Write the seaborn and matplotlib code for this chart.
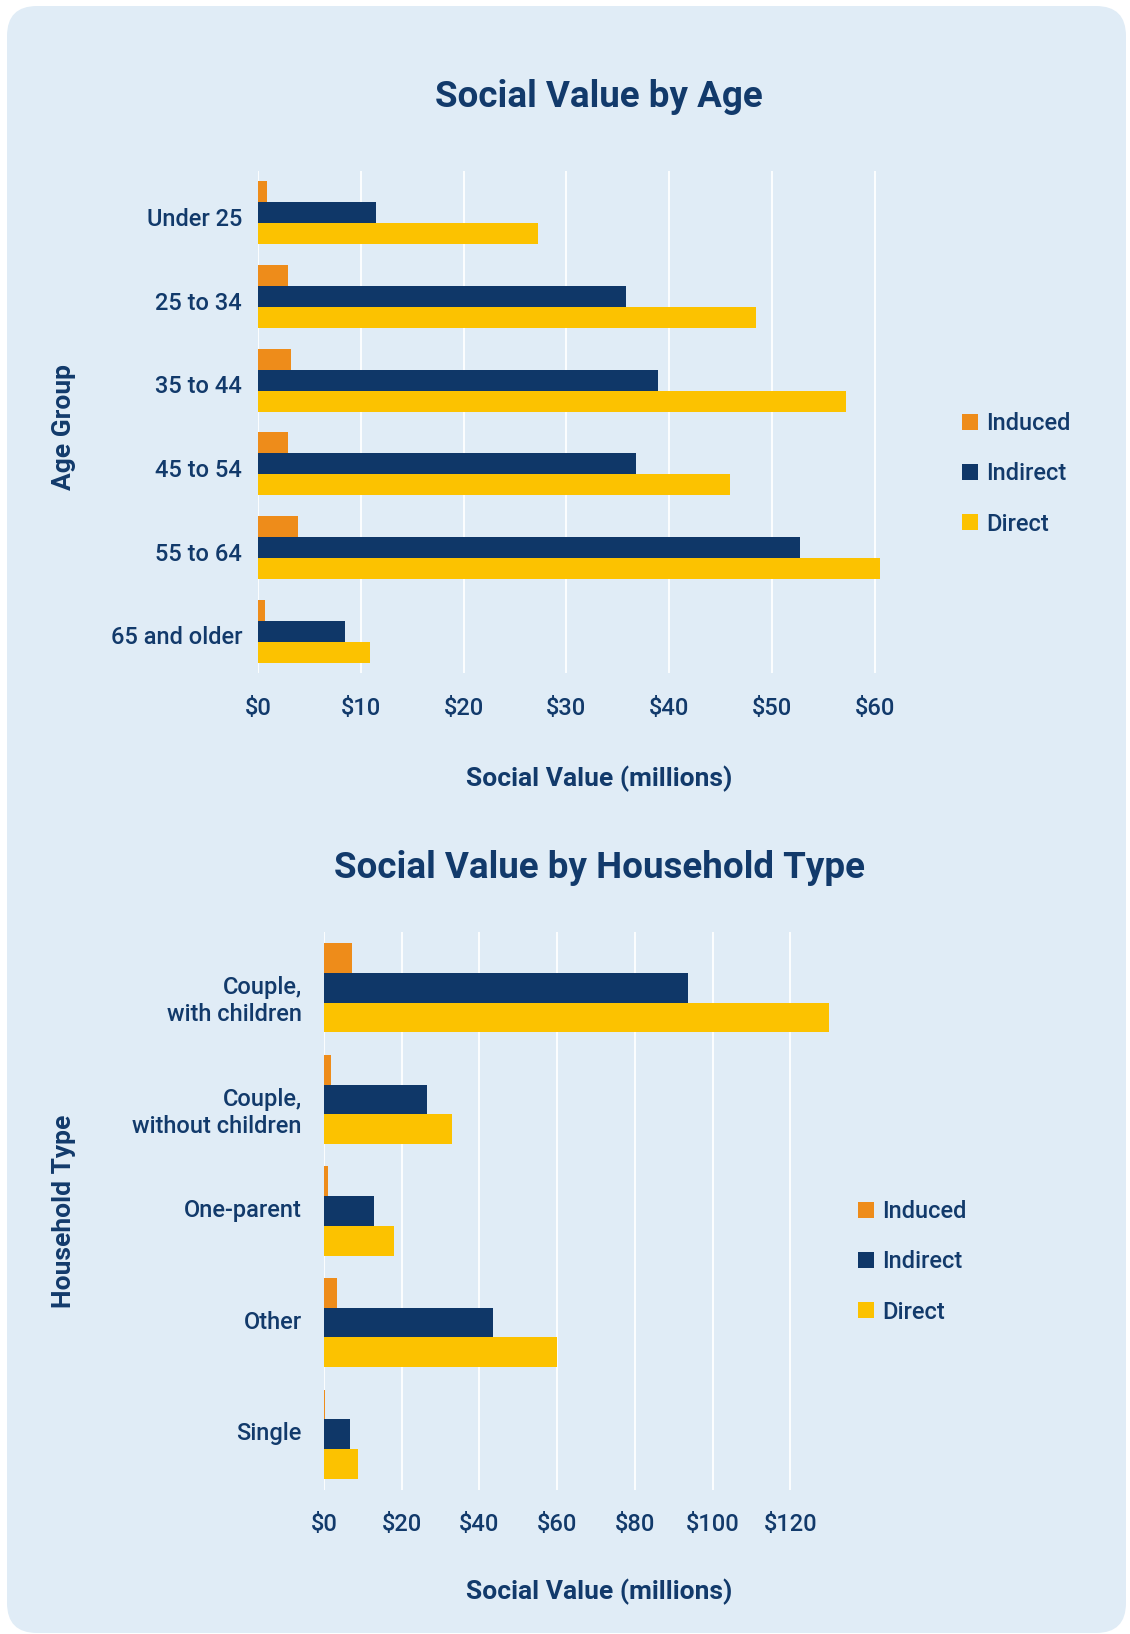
import matplotlib
matplotlib.use("Agg")
import matplotlib.pyplot as plt
from matplotlib.patches import FancyBboxPatch
from matplotlib.transforms import ScaledTranslation
import seaborn as sns
import pandas as pd

# ---------------- data ----------------
series = ["Induced", "Indirect", "Direct"]

age_groups = ["Under 25", "25 to 34", "35 to 44", "45 to 54", "55 to 64", "65 and older"]
age_induced = [0.9, 2.9, 3.2, 2.9, 3.9, 0.7]
age_indirect = [11.5, 35.8, 38.9, 36.8, 52.7, 8.5]
age_direct = [27.2, 48.5, 57.2, 45.9, 60.5, 10.9]
age_ticks = [0, 10, 20, 30, 40, 50, 60]
age_tick_labels = ["$0", "$10", "$20", "$30", "$40", "$50", "$60"]

hh_types = ["Couple,\nwith children", "Couple,\nwithout children", "One-parent", "Other", "Single"]
hh_induced = [7.1, 1.9, 1.0, 3.3, 0.2]
hh_indirect = [93.8, 26.6, 12.9, 43.6, 6.7]
hh_direct = [129.9, 33.0, 17.9, 59.9, 8.7]
hh_ticks = [0, 20, 40, 60, 80, 100, 120]
hh_tick_labels = ["$0", "$20", "$40", "$60", "$80", "$100", "$120"]

# ---------------- style ----------------
BG = "#E0ECF6"
NAVY = "#123A6B"
colors = {"Induced": "#EE8C1A", "Indirect": "#0F3768", "Direct": "#FCC200"}

sns.set_theme(style="white")
plt.rcParams["font.family"] = ["Roboto", "DejaVu Sans"]
plt.rcParams["text.color"] = NAVY


def long_df(cats, ind, indir, direct):
    rows = []
    for c, a, b, d in zip(cats, ind, indir, direct):
        rows.append((c, "Induced", a))
        rows.append((c, "Indirect", b))
        rows.append((c, "Direct", d))
    return pd.DataFrame(rows, columns=["group", "type", "value"])


W, H = 1130, 1634
fig = plt.figure(figsize=(W / 100, H / 100), dpi=100, facecolor="white")

# rounded background panel (inches)
bg = FancyBboxPatch((0.07, 0.01), 11.19, 16.27,
                    boxstyle="round,pad=0,rounding_size=0.3",
                    transform=fig.dpi_scale_trans, facecolor=BG,
                    edgecolor="none", zorder=-10)
fig.patches.append(bg)


def draw(ax, df, order, ticks, tick_labels, xmax, width, ypad, xpad,
         shift_single, shift_multi):
    ax.set_facecolor(BG)
    ax.patch.set_alpha(0)
    sns.barplot(data=df, x="value", y="group", hue="type", order=order,
                hue_order=series, palette=colors, orient="h", width=width,
                saturation=1, linewidth=0, ax=ax, zorder=3)
    ax.set_xlim(0, xmax)
    ax.set_xticks(ticks)
    ax.set_xticklabels(tick_labels)
    ax.grid(axis="x", color="white", linewidth=1.3, zorder=0)
    ax.grid(axis="y", visible=False)
    ax.set_axisbelow(True)
    for s in ax.spines.values():
        s.set_visible(False)
    ax.tick_params(axis="both", length=0, labelsize=17, labelcolor=NAVY)
    ax.tick_params(axis="y", pad=ypad)
    ax.tick_params(axis="x", pad=xpad)
    for lab in ax.get_xticklabels() + ax.get_yticklabels():
        lab.set_fontweight("medium")
    for lab in ax.get_yticklabels():
        lab.set_linespacing(1.2)
        lab.set_multialignment("right")
        shift = shift_multi if "\n" in lab.get_text() else shift_single
        lab.set_transform(lab.get_transform() +
                          ScaledTranslation(0, shift / 72, fig.dpi_scale_trans))
    ax.set_xlabel("")
    ax.set_ylabel("")
    handles, labels = ax.get_legend_handles_labels()
    if ax.get_legend() is not None:
        ax.get_legend().remove()
    return handles, labels


# ---------- top chart ----------
ax1 = fig.add_axes([258 / W, 1 - 673 / H, 632 / W, 502 / H])
h1, l1 = draw(ax1, long_df(age_groups, age_induced, age_indirect, age_direct),
              age_groups, age_ticks, age_tick_labels, 61.5, 0.75, 11.5, 17.5,
              -3, -3)

# ---------- bottom chart ----------
ax2 = fig.add_axes([324 / W, 1 - 1490 / H, 509 / W, 558 / H])
h2, l2 = draw(ax2, long_df(hh_types, hh_induced, hh_indirect, hh_direct),
              hh_types, hh_ticks, hh_tick_labels, 131, 0.8, 16, 16.5,
              2, -6.5)

# titles and axis labels
fig.text(599 / W, 1 - 97 / H, "Social Value by Age", ha="center", va="center",
         fontsize=26.5, fontweight="bold", color=NAVY)
fig.text(599 / W, 1 - 868 / H, "Social Value by Household Type", ha="center",
         va="center", fontsize=26.5, fontweight="bold", color=NAVY)
fig.text(599 / W, 1 - 779 / H, "Social Value (millions)", ha="center",
         va="center", fontsize=19, fontweight="bold", color=NAVY)
fig.text(599 / W, 1 - 1592 / H, "Social Value (millions)", ha="center",
         va="center", fontsize=19, fontweight="bold", color=NAVY)
fig.text(64 / W, 1 - 427 / H, "Age Group", ha="center", va="center",
         rotation=90, fontsize=19, fontweight="bold", color=NAVY)
fig.text(64 / W, 1 - 1211 / H, "Household Type", ha="center", va="center",
         rotation=90, fontsize=19, fontweight="bold", color=NAVY)

# legends
for handles, labels, x, y in [(h1, l1, 962 / W, 1 - 474 / H),
                              (h2, l2, 858 / W, 1 - 1262 / H)]:
    leg = fig.legend(handles, labels, loc="center left", bbox_to_anchor=(x, y),
                     frameon=False, fontsize=17, handlelength=0.68,
                     handleheight=0.68, handletextpad=0.35, labelspacing=1.15,
                     borderpad=0, borderaxespad=0)
    for t in leg.get_texts():
        t.set_color(NAVY)
        t.set_fontweight("medium")

fig.savefig("out.png", dpi=100, facecolor="white")
